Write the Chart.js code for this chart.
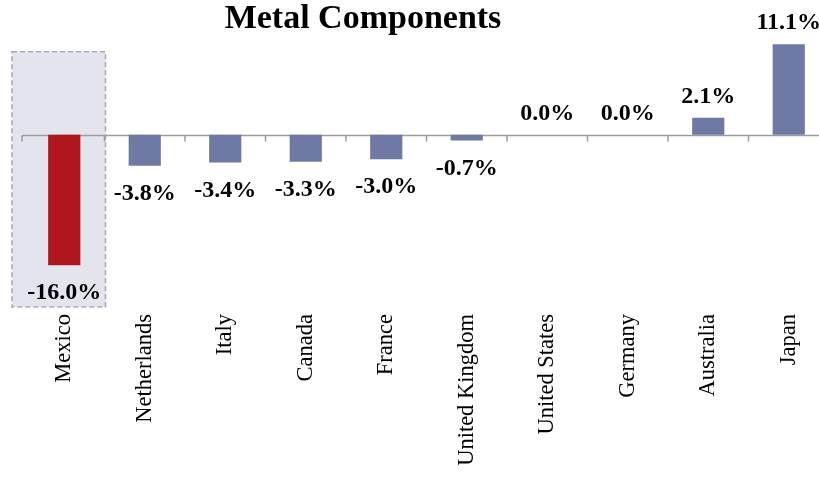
<!DOCTYPE html>
<html>
<head>
<meta charset="utf-8">
<script src="https://cdn.jsdelivr.net/npm/chart.js@4.4.1/dist/chart.umd.min.js"></script>
<style>
  html, body { margin: 0; padding: 0; background: #fff; overflow: hidden; }
</style>
</head>
<body>
<canvas id="chart" width="832" height="478"></canvas>
<script>
const countries = ['Mexico', 'Netherlands', 'Italy', 'Canada', 'France', 'United Kingdom', 'United States', 'Germany', 'Australia', 'Japan'];
const changes = [-16.0, -3.8, -3.4, -3.3, -3.0, -0.7, 0.0, 0.0, 2.1, 11.1];
const focusCountry = 'Mexico';

const BAR_BLUE = '#6e7aa3';
const BAR_RED = '#b0161e';
const SERIF = '"Liberation Serif", "Times New Roman", serif';

// title, drawn left of canvas centre like the original layout
const titlePlugin = {
  id: 'titleText',
  afterDraw(chart) {
    const ctx = chart.ctx;
    ctx.save();
    ctx.font = 'bold 34px ' + SERIF;
    ctx.fillStyle = '#000';
    ctx.textAlign = 'center';
    ctx.textBaseline = 'alphabetic';
    ctx.fillText('Metal Components', 363, 28);
    ctx.restore();
  }
};

// dashed box behind the focus country plus the zero line with category ticks
const backdropPlugin = {
  id: 'backdrop',
  beforeDatasetsDraw(chart) {
    const ctx = chart.ctx;
    const x = chart.scales.x, y = chart.scales.y;
    const step = x.getPixelForValue(1) - x.getPixelForValue(0);
    const i = countries.indexOf(focusCountry);
    const left = x.getPixelForValue(i) - step / 2 - 12;
    const right = x.getPixelForValue(i) + step / 2 + 1;
    const top = y.getPixelForValue(10.2);
    const bottom = chart.chartArea.bottom + 1;
    ctx.save();
    ctx.fillStyle = '#e4e4ee';
    ctx.fillRect(left, top, right - left, bottom - top);
    ctx.setLineDash([5, 3]);
    ctx.strokeStyle = '#a6a6ae';
    ctx.lineWidth = 1.5;
    ctx.strokeRect(left, top, right - left, bottom - top);
    ctx.setLineDash([]);

    const zero = Math.round(y.getPixelForValue(0)) + 0.5;
    ctx.strokeStyle = '#9c9c9c';
    ctx.lineWidth = 1.5;
    ctx.beginPath();
    ctx.moveTo(chart.chartArea.left - 2, zero);
    ctx.lineTo(chart.chartArea.right, zero);
    for (let k = 0; k <= countries.length; k++) {
      const bx = x.getPixelForValue(k) - step / 2 - (k === 0 ? 2 : 0);
      ctx.moveTo(bx, zero);
      ctx.lineTo(bx, zero + 6);
    }
    ctx.stroke();
    ctx.restore();
  }
};

// value labels above positive bars and below negative ones
const valueLabels = {
  id: 'valueLabels',
  afterDatasetsDraw(chart) {
    const ctx = chart.ctx;
    const meta = chart.getDatasetMeta(0);
    ctx.save();
    ctx.font = 'bold 24px ' + SERIF;
    ctx.fillStyle = '#000';
    ctx.textAlign = 'center';
    meta.data.forEach((bar, i) => {
      const v = changes[i];
      const txt = v.toFixed(1) + '%';
      if (v < 0) {
        ctx.textBaseline = 'top';
        ctx.fillText(txt, bar.x, bar.y + 16);
      } else {
        ctx.textBaseline = 'alphabetic';
        ctx.fillText(txt, bar.x, bar.y - 15);
      }
    });
    ctx.restore();
  }
};

new Chart(document.getElementById('chart'), {
  type: 'bar',
  data: {
    labels: countries,
    datasets: [{
      data: changes,
      backgroundColor: countries.map(c => c === focusCountry ? BAR_RED : BAR_BLUE),
      borderWidth: 0,
      categoryPercentage: 1,
      barPercentage: 0.4
    }]
  },
  options: {
    responsive: false,
    animation: false,
    layout: { padding: { top: 37, left: 24, right: 3, bottom: 0 } },
    plugins: {
      legend: { display: false },
      tooltip: { enabled: false }
    },
    scales: {
      x: {
        grid: { display: false, drawTicks: false },
        border: { display: false },
        ticks: {
          minRotation: 90,
          maxRotation: 90,
          padding: 8,
          color: '#000',
          font: { family: SERIF, size: 22.5 }
        },
        afterFit(s) { s.height = 172; }
      },
      y: {
        display: false,
        min: -21,
        max: 12
      }
    }
  },
  plugins: [backdropPlugin, valueLabels, titlePlugin]
});
</script>
</body>
</html>
